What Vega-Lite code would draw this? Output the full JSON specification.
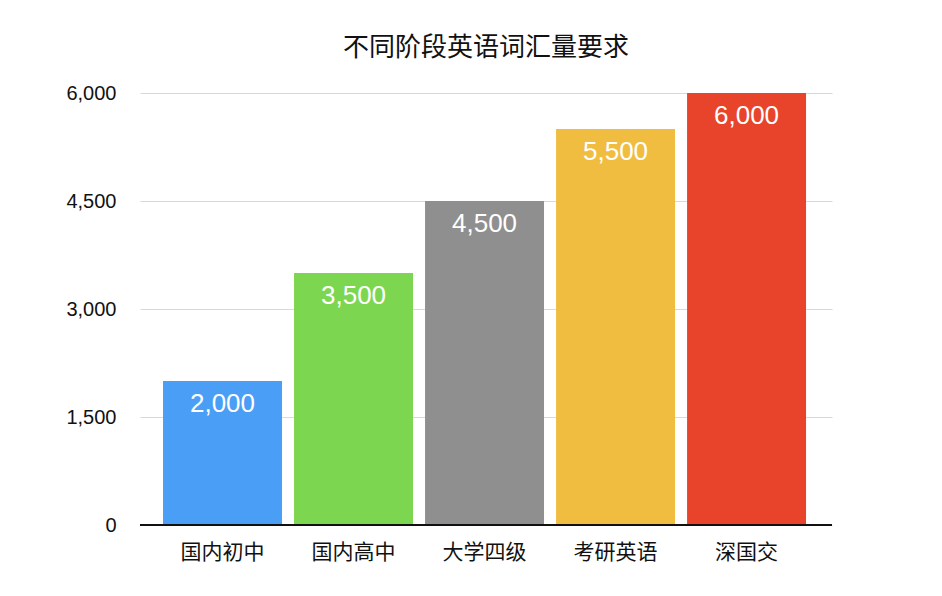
{
  "$schema": "https://vega.github.io/schema/vega-lite/v6.json",
  "autosize": {"type": "none"},
  "padding": {"left": 140, "top": 93, "right": 110, "bottom": 71},
  "width": 692,
  "height": 432,
  "background": "white",
  "title": {
    "text": "不同阶段英语词汇量要求",
    "font": "Noto Sans CJK SC",
    "fontSize": 26,
    "fontWeight": "normal",
    "color": "#111111",
    "anchor": "middle",
    "offset": 22
  },
  "data": {
    "values": [
      {"stage": "国内初中", "words": 2000},
      {"stage": "国内高中", "words": 3500},
      {"stage": "大学四级", "words": 4500},
      {"stage": "考研英语", "words": 5500},
      {"stage": "深国交", "words": 6000}
    ]
  },
  "encoding": {
    "x": {
      "field": "stage",
      "type": "nominal",
      "sort": null,
      "scale": {"paddingInner": 0.092, "paddingOuter": 0.187, "align": 0.47},
      "axis": {
        "title": null,
        "labelAngle": 0,
        "labelFont": "Noto Sans CJK SC",
        "labelFontSize": 21,
        "labelColor": "#111111",
        "labelPadding": 16,
        "ticks": false,
        "domain": false
      }
    },
    "y": {
      "field": "words",
      "type": "quantitative",
      "scale": {"domain": [0, 6000]},
      "axis": {
        "title": null,
        "values": [0, 1500, 3000, 4500, 6000],
        "format": ",d",
        "labelFont": "Liberation Sans",
        "labelFontSize": 20,
        "labelColor": "#111111",
        "labelPadding": 24,
        "ticks": false,
        "domain": false,
        "grid": true,
        "gridColor": "#d9d9d9",
        "gridWidth": 1
      }
    }
  },
  "layer": [
    {
      "mark": {"type": "bar"},
      "encoding": {
        "color": {
          "field": "stage",
          "type": "nominal",
          "sort": null,
          "scale": {
            "domain": ["国内初中", "国内高中", "大学四级", "考研英语", "深国交"],
            "range": ["#4A9EF5", "#7DD64F", "#8F8F8F", "#F0BD41", "#E8432B"]
          },
          "legend": null
        }
      }
    },
    {
      "mark": {
        "type": "rule",
        "color": "#111111",
        "strokeWidth": 2
      },
      "encoding": {
        "y": {"datum": 0},
        "x": null
      }
    },
    {
      "mark": {
        "type": "text",
        "baseline": "middle",
        "dy": 23,
        "color": "white",
        "font": "Liberation Sans",
        "fontSize": 26
      },
      "encoding": {
        "text": {"field": "words", "type": "quantitative", "format": ",d"}
      }
    }
  ],
  "config": {"view": {"stroke": null}}
}
